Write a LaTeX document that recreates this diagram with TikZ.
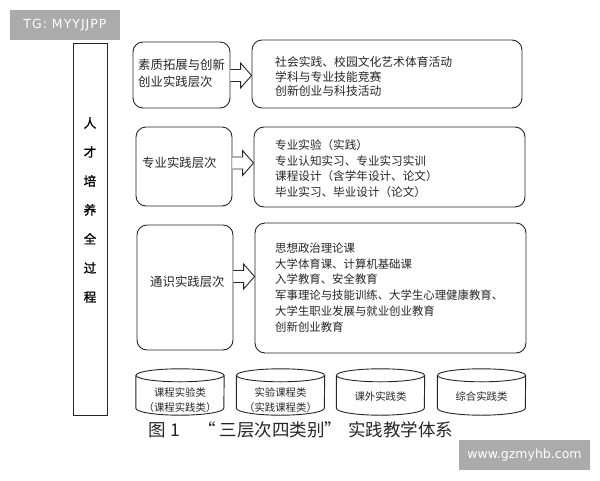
\documentclass[tikz,border=0pt]{standalone}
\usepackage{fontspec}
\setmainfont{Liberation Serif}
\newfontfamily\cjk{Noto Sans CJK SC}
\newfontfamily\cjkb[FakeBold=1.5]{Noto Sans CJK SC}
\newfontfamily\wmfont{DejaVu Sans}
\usetikzlibrary{calc}
\begin{document}
\begin{tikzpicture}[x=1pt,y=-1pt,
  line join=miter,
  box/.style={draw=black!85, line width=0.9pt, rounded corners=10pt, inner sep=0pt},
  plainbox/.style={draw=black!85, line width=0.9pt, inner sep=0pt},
  ltxt/.style={font=\cjk\fontsize{12.4}{17}\selectfont, anchor=west, align=left, inner sep=0pt, text=black!85},
  rtxt/.style={font=\cjk\fontsize{11.6}{15.6}\selectfont, anchor=west, align=left, inner sep=0pt, text=black!85},
  ctxt/.style={font=\cjk\fontsize{10.4}{15}\selectfont, align=center, inner sep=0pt, text=black!85},
  cylbody/.style={inner sep=0pt, minimum width=88pt, minimum height=32.5pt},
  cylline/.style={draw=black!85, line width=0.9pt},
  barrow/.style={draw=black!85, line width=0.9pt, fill=white},
  tag/.style={fill=black!33, text=white, inner sep=0pt, font=\wmfont\fontsize{12.5}{14}\selectfont}
]
\useasboundingbox (0,0) rectangle (600,480);
\fill[white] (0,0) rectangle (600,480);

% watermarks
\node[tag, minimum width=110pt, minimum height=30pt] (tg) at (65,25) {\addfontfeature{LetterSpace=8}TG: MYYJJPP};
\node[tag, minimum width=131pt, minimum height=30pt] (wm) at (524.5,455) {www.gzmyhb.com};

% tall left bar
\node[plainbox, minimum width=34pt, minimum height=372pt] (tall) at (90,229) {};
\node[font=\cjkb\fontsize{12.5}{29}\selectfont, align=center, inner sep=0pt, text=black] (talltxt) at (90,210) {人\\才\\培\\养\\全\\过\\程};

% left level boxes
\node[box, minimum width=97pt, minimum height=66pt] (l1) at (181.5,75) {};
\node[box, minimum width=96pt, minimum height=79pt] (l2) at (184,166.5) {};
\node[box, minimum width=96pt, minimum height=125pt] (l3) at (185,287.5) {};
\node[ltxt] (l1t) at (138,73.5) {素质拓展与创新\\创业实践层次};
\node[ltxt] (l2t) at (142,163) {专业实践层次};
\node[ltxt] (l3t) at (150,282) {通识实践层次};

% right content boxes
\node[box, minimum width=270pt, minimum height=68pt] (r1) at (387,74) {};
\node[box, minimum width=271pt, minimum height=80pt] (r2) at (389.5,167) {};
\node[box, minimum width=271pt, minimum height=130pt] (r3) at (390.5,288) {};
\node[rtxt, font=\cjk\fontsize{11.8}{14.6}\selectfont] (r1t) at (275,76.5) {社会实践、校园文化艺术体育活动\\学科与专业技能竞赛\\创新创业与科技活动};
\node[rtxt] (r2t) at (275,168.5) {专业实验（实践）\\专业认知实习、专业实习实训\\课程设计（含学年设计、论文）\\毕业实习、毕业设计（论文）};
\node[rtxt, font=\cjk\fontsize{11.4}{15.8}\selectfont] (r3t) at (275,287.5) {思想政治理论课\\大学体育课、计算机基础课\\入学教育、安全教育\\军事理论与技能训练、大学生心理健康教育、\\大学生职业发展与就业创业教育\\创新创业教育};

% block arrows
\coordinate (a1) at (0,75.5);
\coordinate (a2) at (0,163);
\coordinate (a3) at (0,276.5);
\foreach \l/\r/\a in {l1/r1/a1, l2/r2/a2, l3/r3/a3}{
  \coordinate (s) at (\l.east |- \a);
  \coordinate (t) at (\r.west |- \a);
  \draw[barrow] ($(s)+(0,-6)$) -- ($(t)+(-11,-6)$) -- ($(t)+(-11,-12.5)$) -- (t)
     -- ($(t)+(-11,12.5)$) -- ($(t)+(-11,6)$) -- ($(s)+(0,6)$);
}

% cylinders
\foreach \n/\x in {c1/180, c2/280.5, c3/380.5, c4/481.5}{
  \node[cylbody] (\n) at (\x,391.75) {};
  \draw[cylline] (\n.north) ellipse [x radius=44, y radius=6.5];
  \draw[cylline] (\n.north west) -- (\n.south west)
     arc[start angle=180, end angle=0, x radius=44, y radius=7] -- (\n.north east);
}
\node[ctxt] (c1t) at (180,400.5) {课程实验类\\（课程实践类）};
\node[ctxt] (c2t) at (280.5,400.5) {实验课程类\\（实践课程类）};
\node[ctxt] (c3t) at (380.5,397) {课外实践类};
\node[ctxt] (c4t) at (481.5,397) {综合实践类};

% caption
\node[font=\cjk\fontsize{17.5}{20}\selectfont, anchor=west, inner sep=0pt, text=black!85] (cap) at (148,430)
  {图\hspace{5pt}1\hspace{18pt}“\hspace{4pt}三层次四类别”\hspace{6pt}实践教学体系};
\end{tikzpicture}
\end{document}
